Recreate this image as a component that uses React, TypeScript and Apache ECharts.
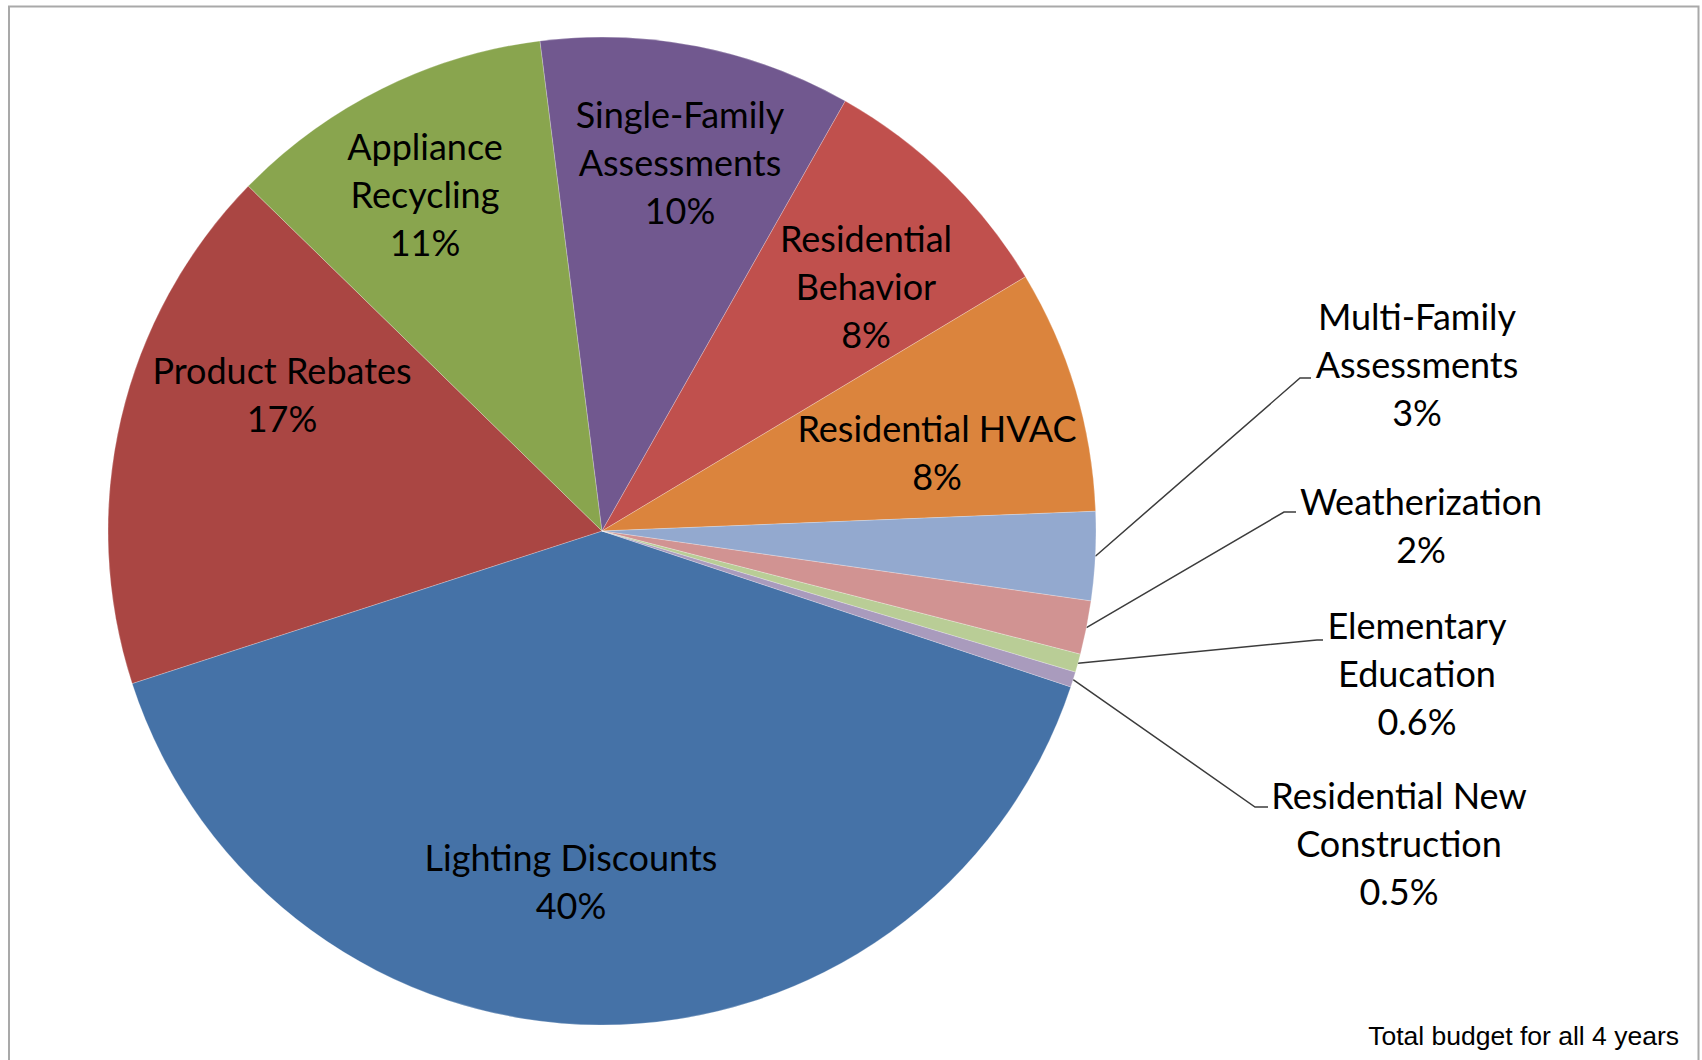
import React, { useEffect, useRef } from "react";
import * as echarts from "echarts";

// ---- data ----
const categories = [
  "Lighting Discounts",
  "Product Rebates",
  "Appliance Recycling",
  "Single-Family Assessments",
  "Residential Behavior",
  "Residential HVAC",
  "Multi-Family Assessments",
  "Weatherization",
  "Elementary Education",
  "Residential New Construction",
];
const wrappedNames = [
  "Lighting Discounts",
  "Product Rebates",
  "Appliance\nRecycling",
  "Single-Family\nAssessments",
  "Residential\nBehavior",
  "Residential HVAC",
  "Multi-Family\nAssessments",
  "Weatherization",
  "Elementary\nEducation",
  "Residential New\nConstruction",
];
const shares = [39.9, 17.3, 10.7, 10.2, 8.2, 7.97, 2.9, 1.75, 0.6, 0.5];
const percentLabels = ["40%", "17%", "11%", "10%", "8%", "8%", "3%", "2%", "0.6%", "0.5%"];
const footnote = "Total budget for all 4 years";

// ---- styles / layout ----
const colors = [
  "#4572A7",
  "#AA4643",
  "#89A54E",
  "#71588F",
  "#C0504D",
  "#DB843D",
  "#93A9CF",
  "#D19392",
  "#B9CD96",
  "#A99BBD",
];
const CENTER: [number, number] = [602, 531];
const RADIUS = 494;
const START_ANGLE = -18.4;
// label block centers (px)
const labelCenters: [number, number][] = [
  [571, 881],
  [282, 394],
  [425, 194],
  [680, 162],
  [866, 286],
  [937, 452],
  [1417, 364],
  [1421, 525],
  [1417, 673],
  [1399, 843],
];
// leader elbows for outside labels: [elbowX, endX, y]
const leaders: ([number, number, number] | null)[] = [
  null, null, null, null, null, null,
  [1300, 1311, 378],
  [1284, 1296, 512],
  [1317, 1323, 640],
  [1255, 1268, 807],
];

export default function App() {
  const ref = useRef<HTMLDivElement>(null);

  useEffect(() => {
    if (!ref.current) return;
    const chart = echarts.init(ref.current, undefined, { renderer: "svg" });

    const total = shares.reduce((a, b) => a + b, 0);
    const midAngles: number[] = [];
    let acc = START_ANGLE;
    shares.forEach((v) => {
      const sweep = (v / total) * 360;
      midAngles.push(acc - sweep / 2);
      acc -= sweep;
    });

    const data = categories.map((name, i) => ({
      name,
      value: shares[i],
      itemStyle: { color: colors[i] },
      label: { position: leaders[i] ? "outside" : "inside" },
      labelLine: { show: !!leaders[i] },
    }));

    chart.setOption({
      animation: false,
      backgroundColor: "#ffffff",
      series: [
        {
          type: "pie",
          center: CENTER,
          radius: RADIUS,
          startAngle: START_ANGLE,
          clockwise: true,
          avoidLabelOverlap: false,
          data,
          itemStyle: { borderColor: "rgba(255,255,255,0.4)", borderWidth: 0.6 },
          label: {
            show: true,
            formatter: (p: any) => wrappedNames[p.dataIndex] + "\n" + percentLabels[p.dataIndex],
            fontFamily: "Lato",
            fontSize: 36,
            lineHeight: 48,
            color: "#000000",
            align: "center",
          },
          labelLine: {
            lineStyle: { color: "#3c3c3c", width: 1.5 },
          },
          emphasis: { disabled: true },
          labelLayout: (params: any) => {
            const i = params.dataIndex;
            const [lx, ly] = labelCenters[i];
            const res: any = { x: lx, y: ly, align: "center", verticalAlign: "middle" };
            const ld = leaders[i];
            if (ld) {
              const a = (midAngles[i] * Math.PI) / 180;
              const sx = CENTER[0] + RADIUS * Math.cos(a);
              const sy = CENTER[1] - RADIUS * Math.sin(a);
              res.labelLinePoints = [
                [sx, sy],
                [ld[0], ld[2]],
                [ld[1], ld[2]],
              ];
            }
            return res;
          },
        },
      ],
      graphic: [
        {
          type: "rect",
          shape: { x: 9, y: 6.5, width: 1689.5, height: 1100 },
          style: { fill: "none", stroke: "#a9a9a9", lineWidth: 2 },
          silent: true,
        },
        {
          type: "text",
          x: 1679,
          y: 1036,
          style: {
            text: footnote,
            fill: "#000000",
            font: "26.5px 'Liberation Sans', Arial, sans-serif",
            textAlign: "right",
            textVerticalAlign: "middle",
          },
          silent: true,
        },
      ],
    });

    return () => chart.dispose();
  }, []);

  return (
    <div
      ref={ref}
      style={{ position: "absolute", left: 0, top: 0, width: 1702, height: 1060 }}
    />
  );
}
